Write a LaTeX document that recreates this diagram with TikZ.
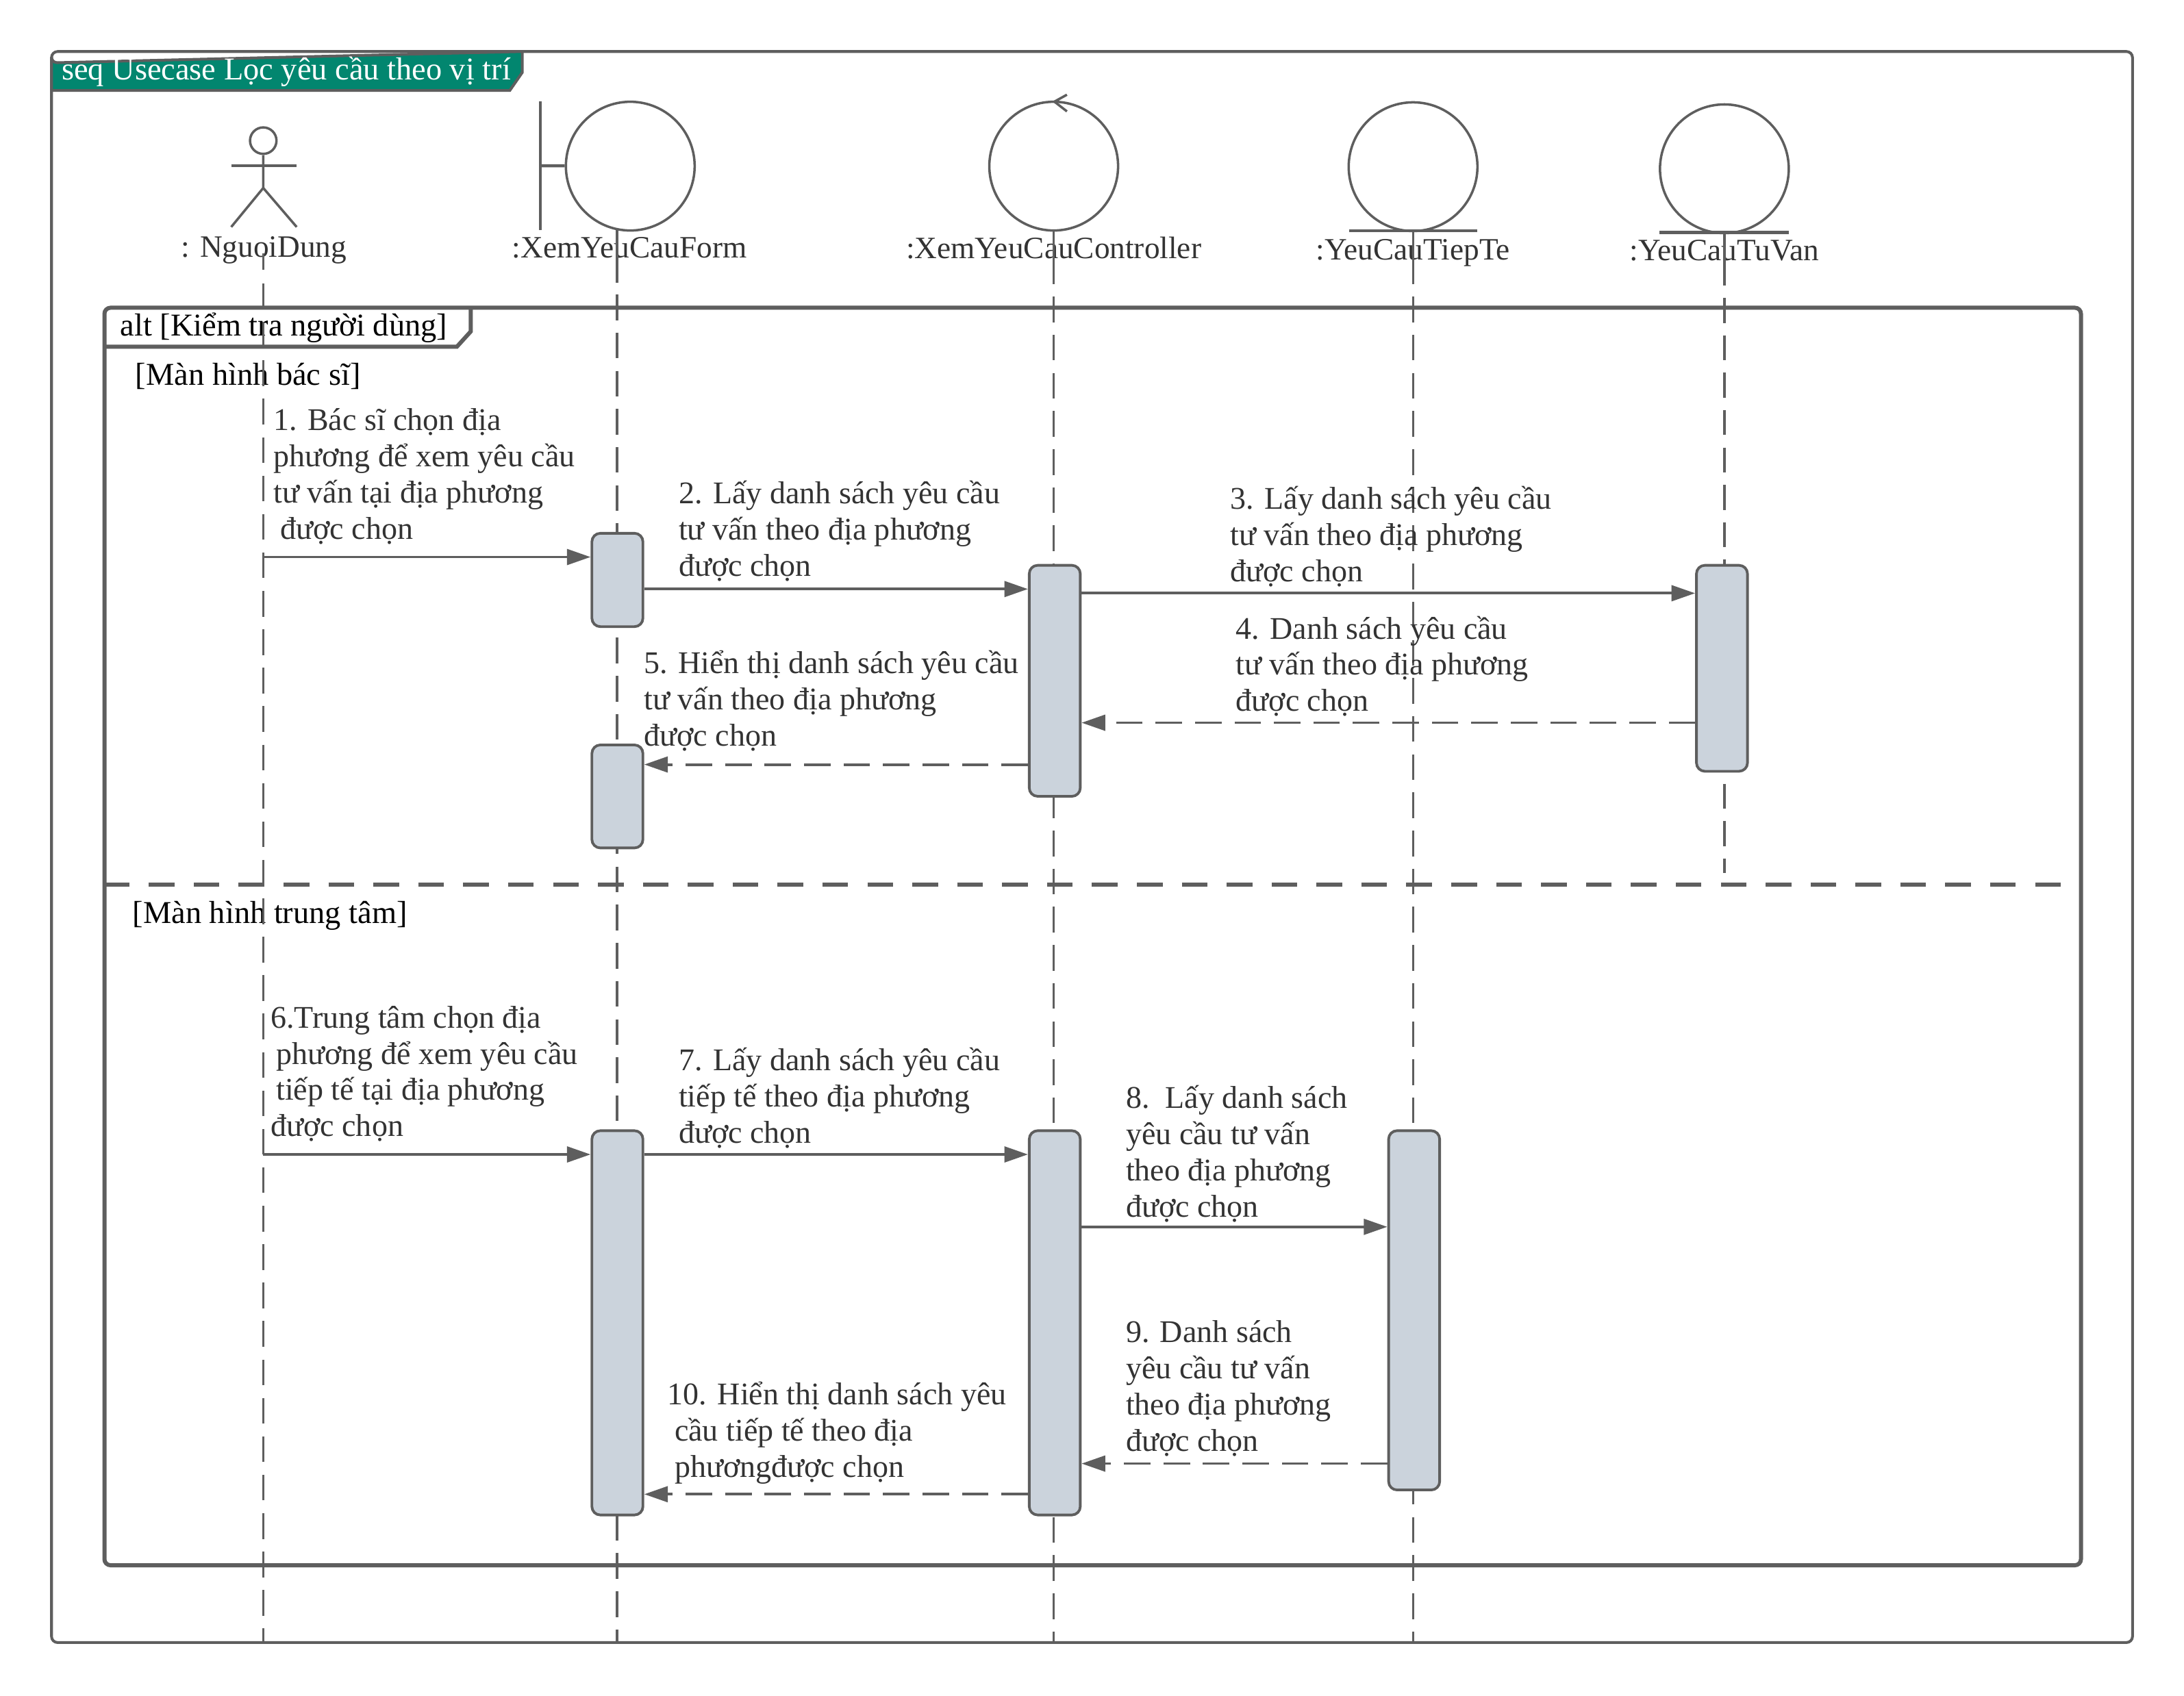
\documentclass[tikz,border=0pt]{standalone}
\usepackage{fontspec}
\setmainfont{Liberation Serif}
\usetikzlibrary{arrows.meta,calc}
\definecolor{ln}{HTML}{5E5E5E}
\definecolor{act}{HTML}{CBD3DC}
\definecolor{teal2}{HTML}{02866F}
\definecolor{txt}{HTML}{333333}
\tikzset{
  px/.style={x=0.02034cm,y=-0.02034cm},
  lifesolid/.style={draw=ln,line width=0.95pt},
  lifedash/.style={draw=ln,line width=0.95pt,dash pattern=on 10.67pt off 5.18pt},
  icon/.style={draw=ln,line width=1pt},
  iconcircle/.style={circle,draw=ln,line width=1pt,fill=white,minimum size=53.5pt,inner sep=0pt},
  actbox/.style={rectangle,draw=ln,line width=1.1pt,fill=act,rounded corners=3.5pt,minimum width=21.2pt,inner sep=0pt,anchor=north west},
  msg/.style={draw=ln,line width=1.1pt,-{Triangle[length=9.8pt,width=6.5pt]}},
  retmsg/.style={msg,dash pattern=on 11pt off 5.4pt},
  msgtext/.style={anchor=north west,inner sep=0pt,align=left,text=txt,yshift=-2.9pt,font=\fontsize{13.1}{15.05}\selectfont,execute at begin node=\strut},
  objlabel/.style={inner sep=0pt,text=txt,font=\fontsize{12.9}{15.05}\selectfont},
  frametext/.style={anchor=west,inner sep=0pt,text=black,font=\fontsize{13.2}{15.05}\selectfont}
}
\begin{document}
\begin{tikzpicture}[px]
\useasboundingbox (0,0) rectangle (1568,1217.9);
\fill[white] (0,0) rectangle (1568,1217.9);
% outer frame
\draw[draw=ln,line width=1.15pt,rounded corners=2.5pt] (37,37) rectangle (1531,1179.5);
\fill[teal2,draw=ln,line width=1.15pt] (37,65) -- (37,41) arc[start angle=180,end angle=90,radius=4] -- (375,37) -- (375,52) -- (366,65) -- cycle;
\node[frametext,text=white] (seqtitle) at (44,51.5) {seq Usecase Lọc yêu cầu theo vị trí};
% alt frame
\draw[draw=ln,line width=1.7pt,rounded corners=2.5pt] (75,221) rectangle (1494,1124);
\draw[draw=ln,line width=1.7pt] (75,249) -- (328,249) -- (338,238) -- (338,221);
\node[frametext] (alttitle) at (86,235.5) {alt [Kiểm tra người dùng]};
\node[frametext] (guard1) at (97,270) {[Màn hình bác sĩ]};
\node[frametext] (guard2) at (95,657.5) {[Màn hình trung tâm]};
\coordinate (sepl) at (74.6,635.4);
\coordinate (sepr) at (1494,635.4);
\draw[draw=ln,line width=1.7pt,dash pattern=on 10.67pt off 7.99pt] (sepl) -- (sepr);
% actor
\node[circle,draw=ln,line width=1pt,minimum size=11pt,inner sep=0pt] (head) at (189,101) {};
\coordinate (neck) at (189,135);
\coordinate (armL) at (166,119);
\coordinate (armR) at (213,119);
\coordinate (legL) at (166,163);
\coordinate (legR) at (213,163);
\draw[icon] (head) -- (neck) -- (legL);
\draw[icon] (neck) -- (legR);
\draw[icon,line width=1.3pt] (armL) -- (armR);
\node[objlabel] (nguoidung) at (189.5,179.5) {: NguoiDung};
% boundary
\node[iconcircle] (form) at (452.5,119.3) {};
\coordinate (formbarT) at (388,73);
\coordinate (formbarB) at (388,165);
\coordinate (formbarM) at (388,119);
\draw[icon] (formbarT) -- (formbarB);
\draw[icon,line width=1.3pt] (formbarM) -- (form);
\node[objlabel] (formlabel) at (452,178) {:XemYeuCauForm};
% control
\node[iconcircle] (ctrl) at (756.5,119.3) {};
\coordinate (chevA) at (766,68);
\coordinate (chevB) at (757,73);
\coordinate (chevC) at (766,80);
\draw[icon] (chevA) -- (chevB) -- (chevC);
\node[objlabel] (ctrllabel) at (756.5,178) {:XemYeuCauController};
% entities
\node[iconcircle] (tiepte) at (1014.5,119.7) {};
\coordinate (teL) at (968.5,165.6);
\coordinate (teR) at (1060.5,165.6);
\draw[icon,line width=1.3pt] (teL) -- (teR);
\node[objlabel] (tieptelabel) at (1014.5,181.5) {:YeuCauTiepTe};
\node[iconcircle] (tuvan) at (1238,121.2) {};
\coordinate (tvL) at (1191.5,167);
\coordinate (tvR) at (1284.5,167);
\draw[icon,line width=1.3pt] (tvL) -- (tvR);
\node[objlabel] (tuvanlabel) at (1238,180) {:YeuCauTuVan};
% lifelines
\coordinate (l1a) at (189,182); \coordinate (l1b) at (189,193.7); \coordinate (l1c) at (189,203.6); \coordinate (l1d) at (189,1179.5);
\coordinate (l2a) at (443,165); \coordinate (l2b) at (443,203); \coordinate (l2c) at (443,211.5); \coordinate (l2d) at (443,1179.5);
\coordinate (l3a) at (756.5,165); \coordinate (l3b) at (756.5,204); \coordinate (l3c) at (756.5,213); \coordinate (l3d) at (756.5,1179.5);
\coordinate (l4a) at (1014.5,166); \coordinate (l4b) at (1014.5,204); \coordinate (l4c) at (1014.5,213); \coordinate (l4d) at (1014.5,1179.5);
\coordinate (l5a) at (1238,167); \coordinate (l5b) at (1238,205); \coordinate (l5c) at (1238,214); \coordinate (l5d) at (1238,627);
\foreach \i in {1,...,5}{
  \draw[lifesolid] (l\i a) -- (l\i b);
}
\draw[lifedash,dash pattern=on 10.67pt off 5.3pt] (l1c) -- (l1d);
\draw[lifedash] (l2c) -- (l2d);
\draw[lifedash] (l3c) -- (l3d);
\draw[lifedash] (l4c) -- (l4d);
\draw[lifedash,dash pattern=on 10.38pt off 5.15pt] (l5c) -- (l5d);
% activations
\node[actbox,minimum height=38.8pt] (a1) at (424,382) {};
\node[actbox,minimum height=96pt] (a2) at (738,405) {};
\node[actbox,minimum height=85.6pt] (a3) at (1217,405) {};
\node[actbox,minimum height=42.8pt] (a4) at (424,534) {};
\node[actbox,minimum height=159.7pt] (a5) at (424,811) {};
\node[actbox,minimum height=159.7pt] (a6) at (738,811) {};
\node[actbox,minimum height=149.3pt] (a7) at (996,811) {};
% message rows
\foreach \n/\y in {m1/400,m2/423,m3/426,m4/519,m5/549,m6/829,m7/829,m8/881,m9/1051,m10/1073}{\coordinate (\n) at (0,\y);}
\draw[msg] (l1a |- m1) -- (a1.west |- m1);
\draw[msg] (a1.east |- m2) -- (a2.west |- m2);
\draw[msg] (a2.east |- m3) -- (a3.west |- m3);
\draw[retmsg] (a3.west |- m4) -- (a2.east |- m4);
\draw[retmsg] (a2.west |- m5) -- (a4.east |- m5);
\draw[msg] (l1a |- m6) -- (a5.west |- m6);
\draw[msg] (a5.east |- m7) -- (a6.west |- m7);
\draw[msg] (a6.east |- m8) -- (a7.west |- m8);
\draw[retmsg] (a7.west |- m9) -- (a6.east |- m9);
\draw[retmsg] (a6.west |- m10) -- (a5.east |- m10);
% message texts
\node[msgtext] (t1) at (196,288) {1. Bác sĩ chọn địa\\phương để xem yêu cầu\\tư vấn tại địa phương\\\hspace*{2.9pt}được chọn};
\node[msgtext] (t2) at (487,340) {2. Lấy danh sách yêu cầu\\tư vấn theo địa phương\\được chọn};
\node[msgtext] (t3) at (883,344) {3. Lấy danh sách yêu cầu\\tư vấn theo địa phương\\được chọn};
\node[msgtext] (t4) at (887,437) {4. Danh sách yêu cầu\\tư vấn theo địa phương\\được chọn};
\node[msgtext] (t5) at (462,462) {5. Hiển thị danh sách yêu cầu\\tư vấn theo địa phương\\được chọn};
\node[msgtext] (t6) at (194,717) {6.Trung tâm chọn địa\\\hspace*{2.3pt}phương để xem yêu cầu\\\hspace*{2.3pt}tiếp tế tại địa phương\\được chọn};
\node[msgtext] (t7) at (487,747) {7. Lấy danh sách yêu cầu\\tiếp tế theo địa phương\\được chọn};
\node[msgtext] (t8) at (808,774) {8.\ \ Lấy danh sách\\yêu cầu tư vấn\\theo địa phương\\được chọn};
\node[msgtext] (t9) at (808,943) {9. Danh sách\\yêu cầu tư vấn\\theo địa phương\\được chọn};
\node[msgtext] (t10) at (479,987) {10. Hiển thị danh sách yêu\\\hspace*{2.9pt}cầu tiếp tế theo địa\\\hspace*{2.9pt}phươngđược chọn};
\end{tikzpicture}
\end{document}
